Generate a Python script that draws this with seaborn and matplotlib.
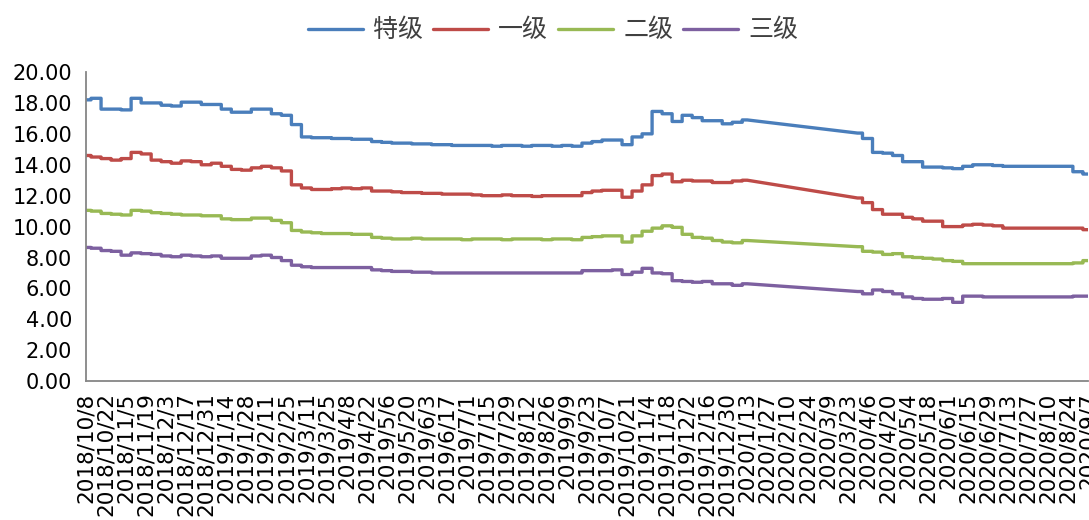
import numpy as np
import pandas as pd
import matplotlib; matplotlib.use("Agg")
import matplotlib.pyplot as plt
import seaborn as sns

# weekly readings, data missing between 2020/1/13 and 2020/3/30
weeks = pd.date_range("2018-10-08", "2020-09-07", freq="7D")
gap = (weeks > "2020-01-13") & (weeks < "2020-03-30")
DATES = weeks[~gap]

GRADES = ["特级", "一级", "二级", "三级"]
COLORS = ["#4A7EBB", "#BE4B48", "#98B954", "#7D60A0"]

TEJI = [
    18.2, 18.3, 17.6, 17.6, 17.55, 18.3, 18.0, 18.0, 17.85, 17.8,
    18.05, 18.05, 17.9, 17.9, 17.6, 17.4, 17.4, 17.6, 17.6, 17.3,
    17.2, 16.6, 15.8, 15.75, 15.75, 15.7, 15.7, 15.65, 15.65, 15.5,
    15.45, 15.4, 15.4, 15.35, 15.35, 15.3, 15.3, 15.25, 15.25, 15.25,
    15.25, 15.2, 15.25, 15.25, 15.2, 15.25, 15.25, 15.2, 15.25, 15.2,
    15.4, 15.5, 15.6, 15.6, 15.3, 15.8, 16.0, 17.45, 17.3, 16.8,
    17.2, 17.05, 16.85, 16.85, 16.65, 16.75, 16.9,
    16.05, 15.7, 14.8, 14.75, 14.6, 14.2, 14.2, 13.85, 13.85, 13.8,
    13.75, 13.9, 14.0, 14.0, 13.95, 13.9, 13.9, 13.9, 13.9, 13.9,
    13.9, 13.9, 13.55, 13.4,
]
YIJI = [
    14.6, 14.5, 14.4, 14.3, 14.4, 14.8, 14.7, 14.3, 14.2, 14.1,
    14.25, 14.2, 14.0, 14.1, 13.9, 13.7, 13.65, 13.8, 13.9, 13.8,
    13.6, 12.7, 12.5, 12.4, 12.4, 12.45, 12.5, 12.45, 12.5, 12.3,
    12.3, 12.25, 12.2, 12.2, 12.15, 12.15, 12.1, 12.1, 12.1, 12.05,
    12.0, 12.0, 12.05, 12.0, 12.0, 11.95, 12.0, 12.0, 12.0, 12.0,
    12.2, 12.3, 12.35, 12.35, 11.9, 12.3, 12.7, 13.3, 13.4, 12.9,
    13.0, 12.95, 12.95, 12.85, 12.85, 12.95, 13.0,
    11.85, 11.55, 11.1, 10.8, 10.8, 10.6, 10.5, 10.35, 10.35, 10.0,
    10.0, 10.1, 10.15, 10.1, 10.05, 9.9, 9.9, 9.9, 9.9, 9.9,
    9.9, 9.9, 9.9, 9.8,
]
ERJI = [
    11.05, 11.0, 10.85, 10.8, 10.75, 11.05, 11.0, 10.9, 10.85, 10.8,
    10.75, 10.75, 10.7, 10.7, 10.5, 10.45, 10.45, 10.55, 10.55, 10.4,
    10.25, 9.75, 9.65, 9.6, 9.55, 9.55, 9.55, 9.5, 9.5, 9.3,
    9.25, 9.2, 9.2, 9.25, 9.2, 9.2, 9.2, 9.2, 9.15, 9.2,
    9.2, 9.2, 9.15, 9.2, 9.2, 9.2, 9.15, 9.2, 9.2, 9.15,
    9.3, 9.35, 9.4, 9.4, 9.0, 9.4, 9.7, 9.9, 10.05, 9.95,
    9.5, 9.3, 9.25, 9.1, 9.0, 8.95, 9.1,
    8.7, 8.4, 8.35, 8.2, 8.25, 8.05, 8.0, 7.95, 7.9, 7.8,
    7.75, 7.6, 7.6, 7.6, 7.6, 7.6, 7.6, 7.6, 7.6, 7.6,
    7.6, 7.6, 7.65, 7.8,
]
SANJI = [
    8.65, 8.6, 8.45, 8.4, 8.15, 8.3, 8.25, 8.2, 8.1, 8.05,
    8.15, 8.1, 8.05, 8.1, 7.95, 7.95, 7.95, 8.1, 8.15, 8.0,
    7.8, 7.5, 7.4, 7.35, 7.35, 7.35, 7.35, 7.35, 7.35, 7.2,
    7.15, 7.1, 7.1, 7.05, 7.05, 7.0, 7.0, 7.0, 7.0, 7.0,
    7.0, 7.0, 7.0, 7.0, 7.0, 7.0, 7.0, 7.0, 7.0, 7.0,
    7.15, 7.15, 7.15, 7.2, 6.9, 7.05, 7.3, 7.0, 6.95, 6.5,
    6.45, 6.4, 6.45, 6.3, 6.3, 6.2, 6.3,
    5.8, 5.65, 5.9, 5.8, 5.65, 5.45, 5.35, 5.3, 5.3, 5.35,
    5.1, 5.5, 5.5, 5.45, 5.45, 5.45, 5.45, 5.45, 5.45, 5.45,
    5.45, 5.45, 5.5, 5.5,
]
SERIES = [TEJI, YIJI, ERJI, SANJI]


def stepify(dates, vals):
    # step between neighbouring weeks, straight line across the data gap
    xs, ys = [dates[0]], [vals[0]]
    for i in range(1, len(dates)):
        d0, d1 = dates[i - 1], dates[i]
        if (d1 - d0).days <= 7:
            mid = d0 + (d1 - d0) / 2
            xs += [mid, mid]
            ys += [vals[i - 1], vals[i]]
        xs.append(d1)
        ys.append(vals[i])
    return xs, ys


rows = []
for name, vals in zip(GRADES, SERIES):
    xs, ys = stepify(list(DATES), vals)
    rows.append(pd.DataFrame({"date": xs, "value": ys, "grade": name}))
df = pd.concat(rows, ignore_index=True)

sns.set_style("white")
plt.rcParams["font.family"] = ["DejaVu Sans", "Noto Sans CJK SC"]
AX_COL = "#868686"

fig = plt.figure(figsize=(10.89, 5.2), dpi=100)
ax = fig.add_axes([0.079, 0.267, 0.92, 0.5945])
sns.lineplot(data=df, x="date", y="value", hue="grade", hue_order=GRADES,
             palette=COLORS, estimator=None, sort=False, linewidth=2.4,
             legend=False, ax=ax)

ax.set_xlim(pd.Timestamp("2018-10-08"), pd.Timestamp("2020-09-07"))
ax.set_ylim(0, 20)
ax.set_yticks(np.arange(0, 21, 2))
ax.set_yticklabels([f"{v:.2f}" for v in np.arange(0, 21, 2)], fontsize=15)
ticks = pd.date_range("2018-10-08", "2020-09-07", freq="14D")
ax.set_xticks(ticks)
ax.set_xticklabels([f"{d.year}/{d.month}/{d.day}" for d in ticks],
                   rotation=90, fontsize=15.5)
ax.set_xlabel("")
ax.set_ylabel("")
for s in ["top", "right"]:
    ax.spines[s].set_visible(False)
for s in ["left", "bottom"]:
    ax.spines[s].set_color(AX_COL)
    ax.spines[s].set_linewidth(1.3)
ax.tick_params(axis="both", direction="out", length=6, width=1.2,
               color=AX_COL, labelcolor="black", pad=2)
ax.tick_params(axis="y", length=5, pad=5)

handles = ax.get_lines()[:4]
fig.legend(handles, GRADES, loc="upper center", bbox_to_anchor=(0.508, 1.01),
           ncol=4, frameon=False, handlelength=2.2,
           handletextpad=0.4, columnspacing=0.4, labelcolor="#404040",
           prop={"family": ["Noto Sans CJK SC", "DejaVu Sans"], "size": 18})

fig.savefig("out.png", dpi=100)
